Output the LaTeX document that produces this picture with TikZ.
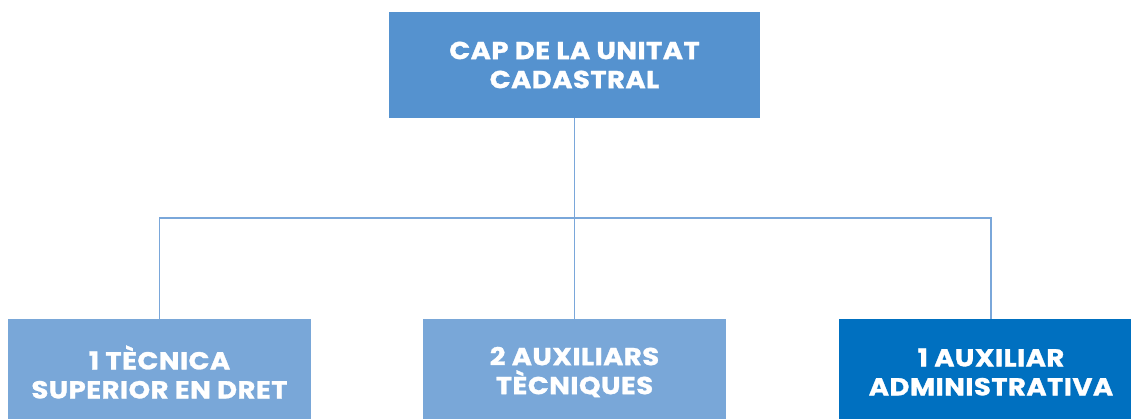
\documentclass[tikz,border=0pt]{standalone}
\usepackage{fontspec}
\setmainfont{Poppins}[LetterSpace=2, FakeStretch=1.12, BoldFeatures={FakeBold=1.2}]
\definecolor{blaucap}{HTML}{5592CF}
\definecolor{blauclar}{HTML}{79A7D8}
\definecolor{blaufosc}{HTML}{0070C0}
\definecolor{blaulinia}{HTML}{7AA7DA}
\tikzset{
  caixa/.style={minimum width=303, minimum height=106, inner sep=0pt, align=center,
    text=white, font=\fontsize{24.5}{29}\selectfont\bfseries},
  linia/.style={draw=blaulinia, line width=1.5pt}
}
\begin{document}
\begin{tikzpicture}[x=1pt, y=1pt]

\useasboundingbox (0,0) rectangle (1131,-419);

\node[caixa, fill=blaucap, minimum width=371] (cap) at (574.5,-65) {CAP DE LA UNITAT\\CADASTRAL};
\node[caixa, fill=blauclar] (tecnica) at (159.5,-372) {1 TÈCNICA\\SUPERIOR EN DRET};
\node[caixa, fill=blauclar] (auxiliars) at (574.5,-372) {2 AUXILIARS\\TÈCNIQUES};
\node[caixa, fill=blaufosc, minimum width=304] (administrativa) at (991,-372) {1 AUXILIAR\\ADMINISTRATIVA};

\coordinate (mig) at (574.5,-218);
\draw[linia] (cap.south) -- (mig);
\draw[linia] (mig) -- (auxiliars.north);
\draw[linia] (tecnica.north) |- (mig) -| (administrativa.north);

\end{tikzpicture}
\end{document}
